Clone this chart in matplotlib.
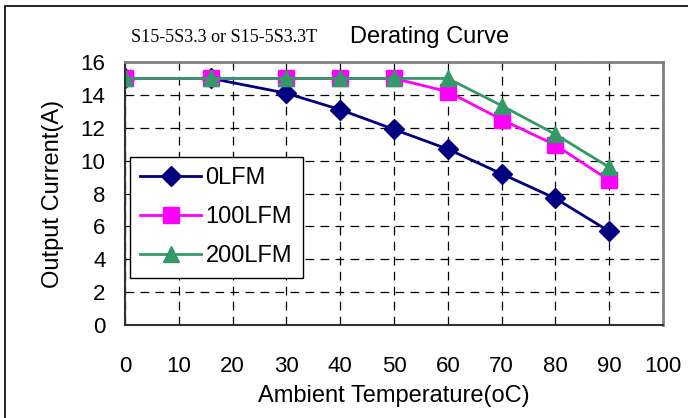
import numpy as np
import matplotlib.pyplot as plt
from matplotlib.patches import Rectangle

# derating data
temps = [0, 16, 30, 40, 50, 60, 70, 80, 90]
lfm0 = [15, 15, 14.1, 13.1, 11.9, 10.7, 9.2, 7.7, 5.7]
lfm100 = [15, 15, 15, 15, 15, 14.2, 12.5, 10.95, 8.8]
lfm200 = [15, 15, 15, 15, 15, 15, 13.35, 11.6, 9.6]
labels = ['0LFM', '100LFM', '200LFM']
xticks = list(range(0, 101, 10))
yticks = list(range(0, 17, 2))

sans = ['Liberation Sans', 'DejaVu Sans']
plt.rcParams['font.family'] = sans

fig = plt.figure(figsize=(6.88, 4.18), dpi=100)
ax = fig.add_axes([125/688, 1-325/418, 538/688, 263/418])

ax.plot(temps, lfm0, color='#000080', lw=2, marker='D', ms=10, label=labels[0])
ax.plot(temps, lfm100, color='#FF00FF', lw=2, marker='s', ms=11, label=labels[1])
ax.plot(temps, lfm200, color='#339966', lw=2, marker='^', ms=12, label=labels[2])

ax.set_xlim(0, 100)
ax.set_ylim(0, 16)
ax.set_xticks(xticks)
ax.set_yticks(yticks)
ax.grid(True, color='black', ls=(0, (7, 5)), lw=0.9)
ax.tick_params(length=0, pad=14, labelsize=16)
ax.tick_params(axis='x', pad=22)

for s in ['top', 'right']:
    ax.spines[s].set_color('#808080')
    ax.spines[s].set_linewidth(2)
for s in ['left', 'bottom']:
    ax.spines[s].set_color('#303030')
    ax.spines[s].set_linewidth(1.5)

ax.set_xlabel('Ambient Temperature(oC)', fontsize=17, labelpad=6)
ax.set_ylabel('Output Current(A)', fontsize=17, labelpad=12)

leg = ax.legend(loc='upper left', bbox_to_anchor=(0.009, 0.64), borderaxespad=0,
                fontsize=17, frameon=True, fancybox=False, edgecolor='black',
                framealpha=1, handlelength=2.55, borderpad=0.45, labelspacing=0.72,
                handletextpad=0.2)
leg.get_frame().set_linewidth(1)

fig.text(131/688, 1-37/418, 'S15-5S3.3 or S15-5S3.3T', family='Liberation Serif',
         fontsize=13, va='center', ha='left')
fig.text(350/688, 1-37/418, 'Derating Curve', fontsize=17, va='center', ha='left')

fig.patches.append(Rectangle((5/688, -0.05), 1.0, 1-6/418+0.05, transform=fig.transFigure,
                             fill=False, edgecolor='black', lw=1.2))

fig.savefig('out.png', dpi=100)
